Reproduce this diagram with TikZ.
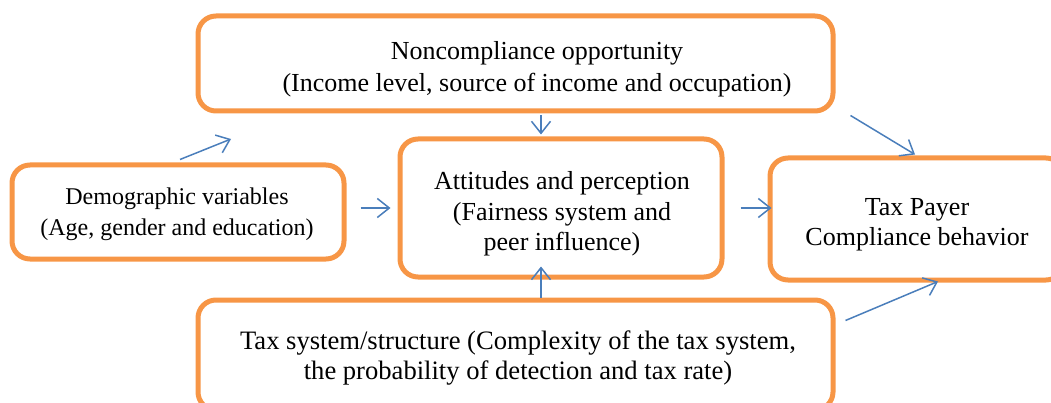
\documentclass[tikz,border=0pt]{standalone}
\usepackage{fontspec}
\setmainfont{Liberation Serif}
\usetikzlibrary{arrows.meta,calc}
\definecolor{boxorange}{HTML}{F79646}
\definecolor{arrblue}{HTML}{4A7EBB}
\tikzset{
  box/.style={draw=boxorange, line width=5pt, rounded corners=18pt, fill=white, inner sep=0pt},
  txt/.style={align=center, font=\fontsize{26}{30.5}\selectfont, inner sep=0pt},
  smalltxt/.style={align=center, font=\fontsize{24}{31}\selectfont, inner sep=0pt},
  arr/.style={draw=arrblue, line width=1.5pt, -{Straight Barb[length=12pt,width=19pt,line width=1.5pt]}}
}
\begin{document}
\begin{tikzpicture}[x=1pt,y=-1pt]
\useasboundingbox (0,0) rectangle (1051,403);
\clip (0,0) rectangle (1051,403);
% boxes
\node[box, minimum width=635pt, minimum height=95pt] (nc) at (515.5,63.5) {};
\node[box, minimum width=332pt, minimum height=94pt] (demo) at (178,212) {};
\node[box, minimum width=322pt, minimum height=138pt] (att) at (561,208) {};
\node[box, minimum width=294pt, minimum height=122pt] (tp) at (917,219) {};
\node[box, minimum width=635pt, minimum height=110pt] (ts) at (515.5,355) {};
% texts
\node[txt, font=\fontsize{26}{32}\selectfont] (nctext) at (537,69) {Noncompliance opportunity\\(Income level, source of income and occupation)};
\node[smalltxt] (demotext) at (177,214) {Demographic variables\\(Age, gender and education)};
\node[txt] (atttext) at (562,214) {Attitudes and perception\\(Fairness system and\\peer influence)};
\node[txt] (tptext) at (917,225) {Tax Payer\\Compliance behavior};
\node[txt, font=\fontsize{26.6}{30.5}\selectfont] (tstext) at (518,358) {Tax system/structure (Complexity of the tax system,\\the probability of detection and tax rate)};
% helper coordinates
\coordinate (xv) at (541,0);
\coordinate (free) at (231,139);
% connectors
\draw[arr] ($(nc.south -| xv)+(0,2)$) -- ($(att.north -| xv)+(0,-2)$);
\draw[arr] ($(nc.south east)+(15,2)$) -- ($(tp.north)+(-2,-1)$);
\draw[arr] ($(demo.north)+(2,-3)$) -- (free);
\draw[arr] ($(demo.east)+(14,-4)$) -- ($(att.west)+(-7,0)$);
\draw[arr] ($(att.east)+(16,0)$) -- ($(tp.west)+(4,-11)$);
\draw[arr] (ts.north -| xv) -- ($(att.south -| xv)+(0,-13)$);
\draw[arr] ($(ts.north east)+(10,23)$) -- ($(tp.south)+(21,-1)$);
\end{tikzpicture}
\end{document}
